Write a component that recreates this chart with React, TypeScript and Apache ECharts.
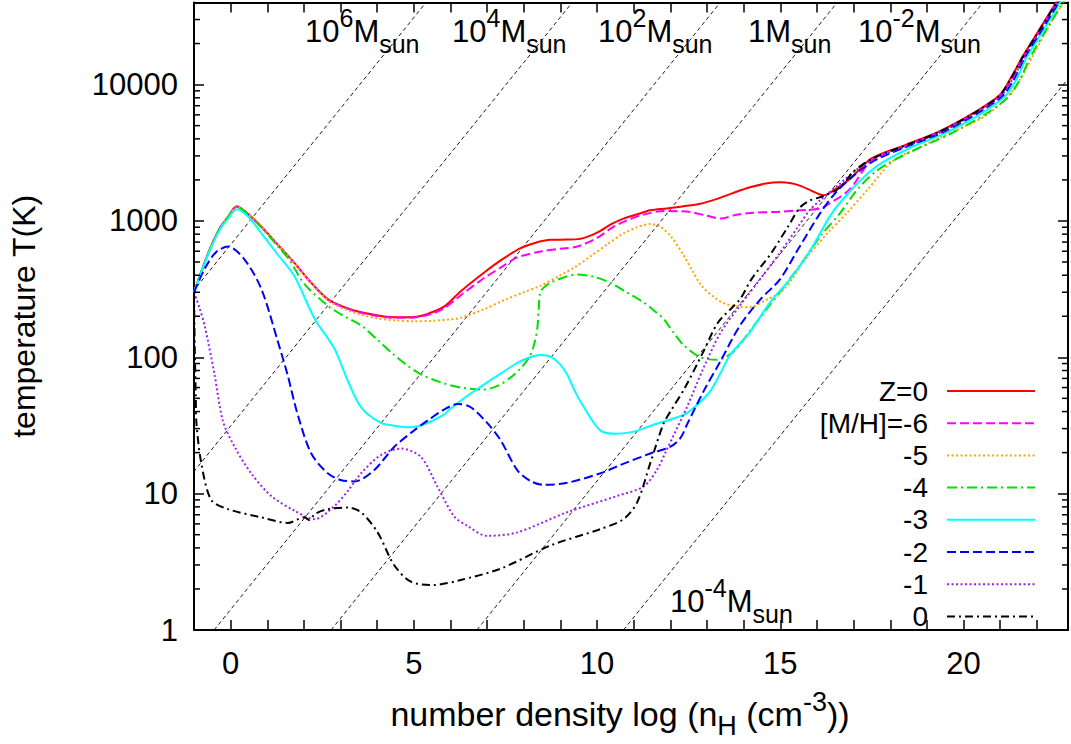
import React, { useEffect, useRef } from 'react';
import * as echarts from 'echarts';

const FONT = '"Liberation Sans", Arial, Helvetica, sans-serif';

const X_MIN = -1;
const X_MAX = 22.85;
const Y_MIN = 1;
const Y_MAX = 40000;

const xTickLabels = [0, 5, 10, 15, 20];
const yTickLabels = [1, 10, 100, 1000, 10000];
const yMinorTicks = [
  2, 3, 4, 5, 6, 7, 8, 9,
  20, 30, 40, 50, 60, 70, 80, 90,
  200, 300, 400, 500, 600, 700, 800, 900,
  2000, 3000, 4000, 5000, 6000, 7000, 8000, 9000,
  20000, 30000,
];

const seriesNames = ['Z=0', '[M/H]=-6', '-5', '-4', '-3', '-2', '-1', '0'];

const zZero: [number, number][] = [
  [-1, 300], [-0.6, 590], [-0.3, 880], [-0.07, 1070], [0.16, 1280], [0.47, 1130], [0.84, 906],
  [1.29, 668], [1.74, 492], [2.2, 352], [2.65, 267], [3.1, 233], [3.56, 214], [4.46, 197],
  [4.92, 197], [5.37, 208], [5.82, 235], [6.28, 305], [6.91, 417], [7.4, 520], [7.91, 632],
  [8.3, 690], [8.73, 727], [9.2, 730], [9.6, 745], [10.0, 820], [10.4, 950], [10.72, 1041],
  [11.1, 1120], [11.45, 1197], [11.9, 1235], [12.36, 1280], [12.81, 1336], [13.27, 1452],
  [13.7, 1600], [14.17, 1764], [14.6, 1880], [14.99, 1919], [15.3, 1890], [15.53, 1815],
  [15.8, 1690], [16.08, 1563], [16.2, 1545], [16.4, 1640], [16.89, 2026], [17.5, 2884],
  [18.44, 3630], [19.34, 4540], [20.25, 6150], [20.98, 8340], [21.3, 11300], [21.62, 16200],
  [22.07, 25350], [22.52, 39800], [22.9, 60000],
];

const mhMinus6: [number, number][] = [
  [-1, 300], [-0.6, 590], [-0.3, 880], [-0.07, 1070], [0.16, 1270], [0.47, 1125], [0.84, 900],
  [1.29, 665], [1.74, 490], [2.2, 350], [2.65, 265], [3.1, 232], [3.56, 212], [4.46, 195],
  [4.92, 195], [5.37, 204], [5.82, 228], [6.28, 285], [6.91, 380], [7.4, 460], [7.82, 540],
  [8.5, 600], [9.0, 625], [9.46, 650], [10.0, 750], [10.4, 890], [10.72, 985], [11.2, 1100],
  [11.81, 1183], [12.2, 1180], [12.54, 1164], [13.0, 1090], [13.36, 1041], [13.8, 1110],
  [14.17, 1145], [15.0, 1170], [15.53, 1197], [16.08, 1230], [16.3, 1320], [16.89, 1700],
  [17.5, 2800], [18.44, 3560], [19.34, 4470], [20.25, 6050], [21.0, 8300], [21.33, 11200],
  [21.65, 16000], [22.1, 25000], [22.55, 39500], [22.9, 58000],
];

const mhMinus5: [number, number][] = [
  [-1, 300], [-0.6, 590], [-0.3, 880], [-0.07, 1070], [0.16, 1275], [0.47, 1128], [0.84, 903],
  [1.29, 666], [1.74, 490], [2.2, 350], [2.65, 263], [3.1, 226], [3.56, 205], [4.0, 193],
  [4.46, 187], [5.0, 184], [5.5, 185], [6.0, 190], [6.28, 195], [6.91, 225], [7.5, 265],
  [8.0, 300], [8.45, 334], [9.0, 400], [9.4, 460], [9.82, 550], [10.3, 680], [10.72, 811],
  [11.1, 900], [11.45, 950], [11.72, 906], [12.0, 780], [12.36, 560], [12.6, 430], [12.85, 335],
  [13.2, 275], [13.45, 250], [13.8, 236], [14.17, 233], [14.6, 262], [15.1, 315], [15.72, 540],
  [16.3, 820], [16.8, 1132], [17.4, 1720], [18.07, 2754], [18.7, 3350], [19.34, 4055],
  [20.0, 4900], [20.6, 5900], [21.16, 7889], [21.55, 11000], [21.88, 16000], [22.3, 26000],
  [22.72, 40000], [23.0, 55000],
];

const mhMinus4: [number, number][] = [
  [-1, 300], [-0.6, 590], [-0.3, 880], [-0.07, 1070], [0.16, 1270], [0.47, 1120], [0.84, 895],
  [1.29, 650], [1.6, 520], [2.01, 345], [2.65, 239], [3.1, 200], [3.56, 171], [4.0, 135],
  [4.46, 104], [4.8, 88], [5.19, 75], [5.7, 66], [6.28, 60], [6.91, 58], [7.3, 62], [7.64, 71],
  [7.95, 85], [8.18, 104], [8.3, 130], [8.37, 165], [8.41, 230], [8.45, 299], [8.6, 335],
  [8.9, 370], [9.46, 405], [9.9, 390], [10.36, 352], [10.8, 300], [11.27, 253], [11.6, 215],
  [11.81, 192], [12.1, 150], [12.36, 123], [12.81, 100], [13.27, 96], [13.72, 110], [14.2, 160],
  [14.63, 226], [15.1, 330], [15.6, 500], [16.1, 780], [16.62, 1132], [17.1, 1700],
  [17.6, 2300], [18.0, 2700], [18.75, 3400], [19.6, 4300], [20.5, 5850], [21.2, 8000],
  [21.55, 11000], [21.8, 15500], [22.25, 25000], [22.7, 39500], [23.0, 55000],
];

const mhMinus3: [number, number][] = [
  [-1, 300], [-0.6, 580], [-0.3, 860], [-0.07, 1040], [0.16, 1220], [0.47, 1080], [0.84, 811],
  [1.29, 565], [1.74, 394], [2.29, 192], [2.83, 116], [3.2, 67], [3.56, 43], [4.1, 33],
  [4.46, 31.5], [4.92, 30.7], [5.37, 33], [5.82, 38], [6.0, 42], [6.45, 52], [6.91, 63],
  [7.4, 77], [7.82, 91], [8.2, 101], [8.45, 104], [8.73, 101], [9.0, 88], [9.18, 75], [9.4, 56],
  [9.64, 43], [10.09, 29], [10.54, 27.5], [11.0, 28.5], [11.54, 32], [12.0, 35], [12.45, 39],
  [12.81, 47], [13.08, 56], [13.35, 75], [13.63, 104], [14.17, 153], [14.72, 253],
  [15.26, 373], [15.8, 600], [16.4, 1132], [16.9, 1650], [17.4, 2250], [17.8, 2700],
  [18.6, 3500], [19.5, 4400], [20.4, 5950], [21.12, 8150], [21.45, 11000], [21.72, 15800],
  [22.18, 25000], [22.62, 39500], [23.0, 60000],
];

const mhMinus2: [number, number][] = [
  [-1, 300], [-0.7, 450], [-0.4, 590], [-0.07, 650], [0.38, 521], [0.84, 316], [1.29, 130],
  [1.55, 75], [1.83, 38], [2.2, 19.7], [2.65, 14.1], [3.0, 12.6], [3.38, 12.3], [3.92, 14.9],
  [4.46, 22], [5.0, 29], [5.37, 34.3], [5.8, 41], [6.2, 45.5], [6.55, 43], [7.0, 33],
  [7.37, 24.6], [7.82, 14.9], [8.2, 12.3], [8.55, 11.6], [9.18, 12], [10.09, 14.1],
  [10.63, 16.2], [11.45, 19.7], [11.99, 22], [12.27, 25.5], [12.45, 32], [12.9, 56],
  [13.36, 93], [13.9, 171], [14.45, 265], [14.99, 373], [15.5, 630], [16.08, 1132],
  [16.5, 1600], [17.0, 2150], [17.6, 2800], [18.5, 3550], [19.42, 4450], [20.33, 6050],
  [21.06, 8250], [21.38, 11000], [21.68, 16000], [22.13, 25000], [22.58, 39500], [22.95, 58000],
];

const mhMinus1: [number, number][] = [
  [-1, 300], [-0.85, 230], [-0.71, 171], [-0.44, 75], [-0.21, 34], [0.11, 22], [0.56, 14.1],
  [1.11, 9.6], [1.74, 7.5], [2.29, 6.5], [2.83, 8.1], [3.2, 10.5], [3.56, 14.1], [4.1, 19.2],
  [4.65, 21.4], [5.19, 18.6], [5.64, 11.3], [6.1, 6.8], [6.46, 5.8], [7.0, 4.9], [7.82, 5.2],
  [9.18, 7.3], [10.54, 9.6], [11.27, 11.3], [11.63, 14.9], [11.9, 21], [12.45, 43], [12.9, 83],
  [13.36, 150], [13.9, 240], [14.5, 390], [15.0, 590], [15.5, 920], [15.8, 1200], [16.08, 1413],
  [16.6, 1850], [17.1, 2400], [17.55, 2850], [18.5, 3600], [19.4, 4500], [20.3, 6100],
  [21.03, 8300], [21.35, 11100], [21.66, 16000], [22.1, 25000], [22.55, 39500], [22.92, 58000],
];

const mhZero: [number, number][] = [
  [-1, 300], [-0.98, 120], [-0.95, 50], [-0.93, 32], [-0.8, 16.7], [-0.53, 9], [-0.07, 7.7],
  [0.84, 6.7], [1.56, 6.1], [2.01, 6.7], [2.15, 6.4], [2.3, 7.1], [2.65, 7.7], [3.2, 7.9],
  [3.56, 7.3], [4.01, 5.2], [4.46, 3.0], [4.92, 2.26], [5.55, 2.14], [6.28, 2.33], [7.37, 2.82],
  [8.73, 4.17], [10.09, 5.5], [10.72, 6.5], [11.09, 8.6], [11.45, 16.7], [11.81, 32.5],
  [12.0, 40], [12.4, 60], [12.9, 110], [13.3, 180], [13.9, 267], [14.2, 370], [14.75, 580],
  [15.2, 900], [15.53, 1250], [15.8, 1410], [16.17, 1520], [16.62, 1750], [17.0, 2300],
  [17.5, 2860], [18.44, 3600], [19.34, 4500], [20.25, 6100], [20.98, 8300], [21.3, 11200],
  [21.62, 16000], [22.07, 25000], [22.52, 39500], [22.9, 60000],
];

const seriesData = [zZero, mhMinus6, mhMinus5, mhMinus4, mhMinus3, mhMinus2, mhMinus1, mhZero];
const seriesColors = ['#ff0000', '#ff00ff', '#ffa500', '#00e000', '#00ffff', '#0000ff', '#a020f0', '#000000'];
const seriesDash: (number[] | 'solid')[] = [
  'solid', [9, 4], [2, 2.5], [10, 4, 2, 4], 'solid', [9, 4], [2, 2.5], [8, 4, 2, 4],
];

// Constant Jeans-mass lines: endpoints [x, T] at T=1 and T=40000
const jeansLines: [number, number][][] = [
  [[-8.48, 1], [5.33, 40000]],
  [[-4.49, 1], [9.32, 40000]],
  [[-0.45, 1], [13.36, 40000]],
  [[2.74, 1], [16.55, 40000]],
  [[6.72, 1], [20.53, 40000]],
  [[10.72, 1], [24.53, 40000]],
];

const massLabels = [
  { text: '10{sup|6}M{sub|sun}', x: 305, y: 31 },
  { text: '10{sup|4}M{sub|sun}', x: 452, y: 31 },
  { text: '10{sup|2}M{sub|sun}', x: 598, y: 31 },
  { text: '1M{sub|sun}', x: 748, y: 31 },
  { text: '10{sup|-2}M{sub|sun}', x: 858, y: 31 },
  { text: '10{sup|-4}M{sub|sun}', x: 670, y: 601 },
];

const richSupSub = (size: number) => ({
  sup: { fontSize: size, lineHeight: 25, verticalAlign: 'top', fontFamily: FONT, color: '#000' },
  sub: { fontSize: size, lineHeight: 25, verticalAlign: 'bottom', fontFamily: FONT, color: '#000' },
});

export default function App() {
  const ref = useRef<HTMLDivElement>(null);

  useEffect(() => {
    if (!ref.current) return;
    const chart = echarts.init(ref.current, null, { renderer: 'svg' });

    const isDecade = (v: number) => {
      const l = Math.log10(v);
      return Math.abs(l - Math.round(l)) < 1e-6 && yTickLabels.includes(Math.round(v));
    };

    const axisLineStyle = { color: '#000', width: 2 };
    const tickStyle = { color: '#000', width: 1.5 };

    const lineSeries = seriesNames.map((name, i) => ({
      type: 'line',
      name,
      data: seriesData[i],
      symbol: 'none',
      showSymbol: false,
      smooth: 0.3,
      silent: true,
      z: 3 + i * 0.01,
      lineStyle: { color: seriesColors[i], width: 2, type: seriesDash[i] },
      itemStyle: { color: seriesColors[i] },
    }));

    const jeansSeries = jeansLines.map((pts, i) => ({
      type: 'line',
      name: 'jeans' + i,
      data: pts,
      symbol: 'none',
      silent: true,
      z: 2,
      lineStyle: { color: '#000', width: 0.9, type: [4, 3] },
    }));

    const minorTickSeries = {
      type: 'custom',
      name: 'minorTicks',
      silent: true,
      clip: false,
      z: 10,
      data: yMinorTicks.map((v) => [X_MIN, v]),
      renderItem: (_params: any, api: any) => {
        const v = api.value(1);
        const pL = api.coord([X_MIN, v]);
        const pR = api.coord([X_MAX, v]);
        return {
          type: 'group',
          children: [
            { type: 'line', shape: { x1: pL[0], y1: pL[1], x2: pL[0] + 6, y2: pL[1] }, style: { stroke: '#000', lineWidth: 1.5 } },
            { type: 'line', shape: { x1: pR[0] - 6, y1: pR[1], x2: pR[0], y2: pR[1] }, style: { stroke: '#000', lineWidth: 1.5 } },
          ],
        };
      },
    };

    const option: any = {
      animation: false,
      backgroundColor: '#fff',
      textStyle: { fontFamily: FONT },
      grid: { left: 193, right: 2, top: 2.5, bottom: 105 },
      xAxis: [
        {
          type: 'value',
          min: X_MIN,
          max: X_MAX,
          interval: 1,
          position: 'bottom',
          name: 'number density log (n{sub|H} (cm{sup|-3}))',
          nameLocation: 'middle',
          nameGap: 58,
          nameTextStyle: {
            fontSize: 34, lineHeight: 51, fontFamily: FONT, color: '#000',
            padding: [0, 22, 0, 0],
            rich: richSupSub(27),
          },
          axisLine: { show: true, onZero: false, lineStyle: axisLineStyle },
          axisTick: { show: true, inside: true, length: 10, lineStyle: tickStyle },
          axisLabel: {
            show: true, margin: 18, fontSize: 31, fontFamily: FONT, color: '#000',
            formatter: (v: number) => (xTickLabels.includes(Math.round(v * 1000) / 1000) ? String(v) : ''),
          },
          splitLine: { show: false },
        },
        {
          type: 'value',
          min: X_MIN,
          max: X_MAX,
          interval: 1,
          position: 'top',
          axisLine: { show: true, onZero: false, lineStyle: axisLineStyle },
          axisTick: { show: true, inside: true, length: 10, lineStyle: tickStyle },
          axisLabel: { show: false },
          splitLine: { show: false },
        },
      ],
      yAxis: [
        {
          type: 'log',
          logBase: 10,
          min: Y_MIN,
          max: Y_MAX,
          position: 'left',
          name: 'temperature T(K)',
          nameLocation: 'middle',
          nameGap: 154,
          nameTextStyle: { fontSize: 32, fontFamily: FONT, color: '#000' },
          axisLine: { show: true, onZero: false, lineStyle: axisLineStyle },
          axisTick: { show: true, inside: true, length: 10, lineStyle: tickStyle },
          axisLabel: {
            show: true, margin: 16, fontSize: 31, fontFamily: FONT, color: '#000',
            formatter: (v: number) => (isDecade(v) ? String(Math.round(v)) : ''),
          },
          splitLine: { show: false },
        },
        {
          type: 'log',
          logBase: 10,
          min: Y_MIN,
          max: Y_MAX,
          position: 'right',
          axisLine: { show: true, onZero: false, lineStyle: axisLineStyle },
          axisTick: { show: true, inside: true, length: 10, lineStyle: tickStyle },
          axisLabel: { show: false },
          splitLine: { show: false },
        },
      ],
      legend: {
        data: seriesNames,
        orient: 'vertical',
        right: 30,
        top: 372,
        align: 'right',
        itemWidth: 88,
        itemHeight: 14,
        itemGap: 4.2,
        padding: 5,
        selectedMode: false,
        itemStyle: { opacity: 0 },
        textStyle: { fontSize: 28, fontFamily: FONT, color: '#000', padding: [0, 14, 0, 0] },
      },
      graphic: massLabels.map((m) => ({
        type: 'text',
        x: m.x,
        y: m.y,
        silent: true,
        z: 20,
        style: {
          text: m.text,
          fontSize: 31,
          lineHeight: 51,
          fontFamily: FONT,
          fill: '#000',
          align: 'left',
          verticalAlign: 'middle',
          rich: richSupSub(25),
        },
      })),
      series: [...jeansSeries, ...lineSeries, minorTickSeries],
    };

    chart.setOption(option);
    return () => chart.dispose();
  }, []);

  return (
    <div
      ref={ref}
      style={{ position: 'absolute', left: 0, top: 0, width: 1071, height: 744, background: '#fff' }}
    />
  );
}
